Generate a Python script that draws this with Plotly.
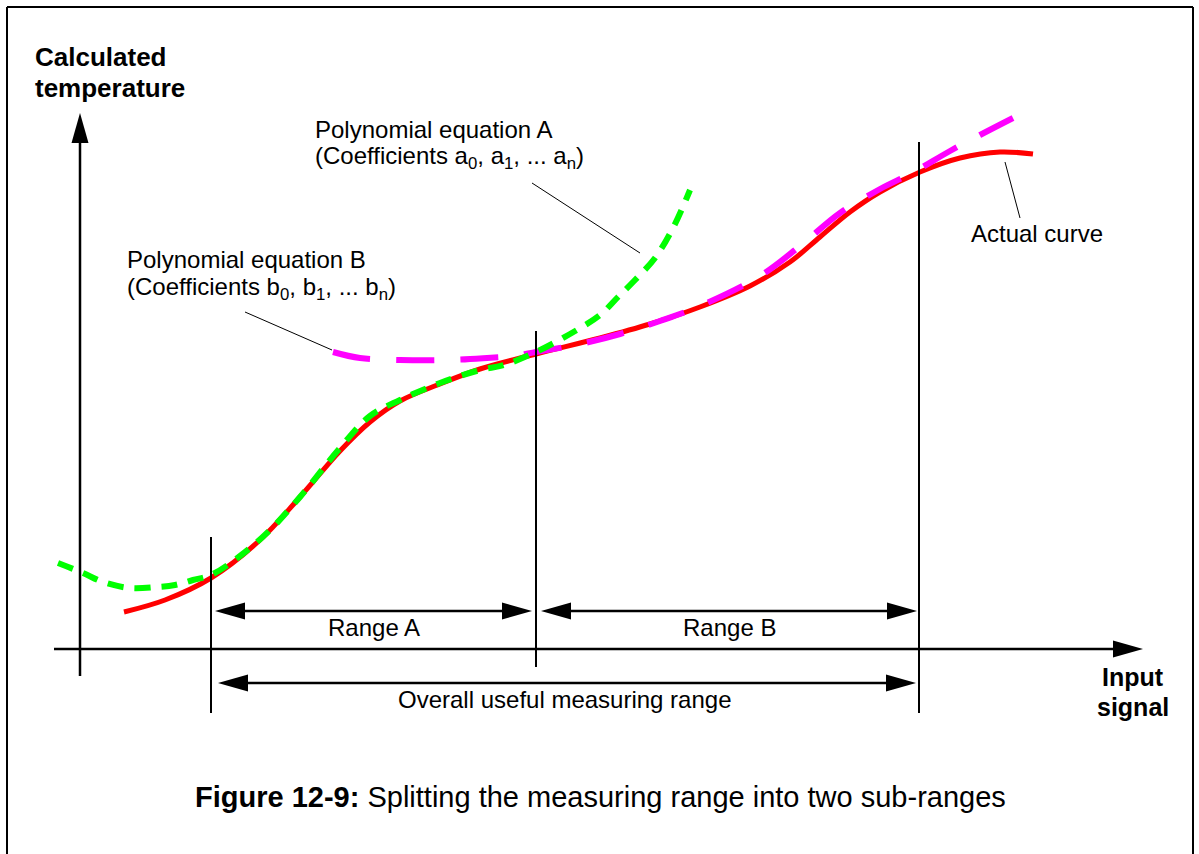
import plotly.graph_objects as go

# ---------------- data (diagram units = pixels of the 1199x854 sheet) -------------
actual_x = [124, 165, 211, 260, 300, 340, 370, 400, 440, 480, 536, 600, 650, 700, 750, 790, 820, 850, 880, 920, 960, 1000, 1033]
actual_y = [612, 600, 578, 540, 497, 451, 422, 401, 384, 369, 354, 338, 324, 307, 286, 262, 237, 212, 192, 172, 158, 152, 154]

polyA_x = [58, 83, 103, 130, 157, 175, 193, 211, 240, 270, 300, 340, 370, 400, 440, 480, 504, 536, 570, 600, 618, 635, 655, 674, 690]
polyA_y = [563, 573, 582, 588, 587, 585, 580, 575, 556, 530, 497, 448, 416, 400, 383, 370, 365, 352, 334, 315, 297, 280, 258, 226, 190]

polyB_x = [333, 360, 400, 450, 487, 513, 536, 580, 620, 660, 700, 760, 800, 840, 880, 912, 950, 980, 1013]
polyB_y = [352, 358, 360, 360, 358, 356, 352, 344, 334, 321, 306, 276, 246, 213, 189, 173, 151, 135, 118]

# axes (start -> end, arrow at end)
x_axis = dict(x0=54, y0=649, x1=1143, y1=649)
y_axis = dict(x0=80, y0=676, x1=80, y1=113)

# vertical boundary lines
bound_x = [211, 536, 919]
bound_top = [537, 331, 142]
bound_bot = [713, 667, 713]

# double arrows  (x_left, x_right, y)
range_arrows = [(215, 532, 611), (541, 917, 611), (218, 916, 683)]

# leader lines ((x0, y0), (x1, y1))
leaders = [((532, 183), (640, 253)), ((245, 312), (332, 350)), ((1005, 162), (1020, 218))]

FONT = "Liberation Sans, Arial, sans-serif"

fig = go.Figure()

fig.add_trace(go.Scatter(x=actual_x, y=actual_y, mode="lines",
                         line=dict(color="#FF0000", width=5, shape="spline", smoothing=1.0),
                         hoverinfo="skip", showlegend=False))
fig.add_trace(go.Scatter(x=polyB_x, y=polyB_y, mode="lines",
                         line=dict(color="#FF00FF", width=6, shape="spline", smoothing=1.0, dash="38px,26px"),
                         hoverinfo="skip", showlegend=False))
fig.add_trace(go.Scatter(x=polyA_x, y=polyA_y, mode="lines",
                         line=dict(color="#00FF00", width=6, shape="spline", smoothing=1.0, dash="16px,11px"),
                         hoverinfo="skip", showlegend=False))

shapes = []
HEAD_L, HEAD_W = 30, 8.5


def head(tx, ty, dx, dy):
    # filled triangle with tip (tx,ty) pointing along unit vector (dx,dy)
    bx, by = tx - dx * HEAD_L, ty - dy * HEAD_L
    px, py = -dy * HEAD_W, dx * HEAD_W
    return dict(type="path", xref="x", yref="y",
                path=f"M{tx},{ty} L{bx+px},{by+py} L{bx-px},{by-py} Z",
                fillcolor="black", line=dict(width=0))


def line(x0, y0, x1, y1, w=2):
    return dict(type="line", xref="x", yref="y", x0=x0, y0=y0, x1=x1, y1=y1,
                line=dict(color="black", width=w))

# frame
shapes.append(line(7, 854, 7, 7, 2))
shapes.append(line(7, 7, 1193, 7, 2))
shapes.append(line(1193, 7, 1193, 854, 2))

# axes
shapes.append(line(x_axis["x0"], x_axis["y0"], x_axis["x1"] - 20, x_axis["y1"], 2.5))
shapes.append(head(x_axis["x1"], x_axis["y1"], 1, 0))
shapes.append(line(y_axis["x0"], y_axis["y0"], y_axis["x1"], y_axis["y1"] + 20, 2.5))
shapes.append(head(y_axis["x1"], y_axis["y1"], 0, -1))

for bx, bt, bb in zip(bound_x, bound_top, bound_bot):
    shapes.append(line(bx, bt, bx, bb, 2))

for xl, xr, yy in range_arrows:
    shapes.append(line(xl + 20, yy, xr - 20, yy, 2.5))
    shapes.append(head(xl, yy, -1, 0))
    shapes.append(head(xr, yy, 1, 0))

for (a, b) in leaders:
    shapes.append(line(a[0], a[1], b[0], b[1], 1))

ann = []


def txt(x, y, s, size=24, xanchor="left", bold=False):
    ann.append(dict(x=x, y=y, xref="x", yref="y", text=(f"<b>{s}</b>" if bold else s),
                    showarrow=False, xanchor=xanchor, yanchor="middle",
                    font=dict(family=FONT, size=size, color="black")))

txt(33, 57, "Calculated", 26, bold=True)
txt(33, 88, "temperature", 26, bold=True)
txt(313, 129, "Polynomial equation A")
txt(313, 157, "(Coefficients a<sub>0</sub>, a<sub>1</sub>, ... a<sub>n</sub>)")
txt(125, 259, "Polynomial equation B")
txt(125, 288, "(Coefficients b<sub>0</sub>, b<sub>1</sub>, ... b<sub>n</sub>)")
txt(969, 233, "Actual curve")
txt(374, 627, "Range A", xanchor="center")
txt(729, 627, "Range B", xanchor="center")
txt(565, 699, "Overall useful measuring range", xanchor="center")
txt(1133, 677, "Input", 25, xanchor="center", bold=True)
txt(1133, 707, "signal", 25, xanchor="center", bold=True)
txt(600, 797, "<b>Figure 12-9:</b> Splitting the measuring range into two sub-ranges", 29, xanchor="center")

fig.update_layout(
    width=1199, height=854,
    margin=dict(l=0, r=0, t=0, b=0),
    paper_bgcolor="white", plot_bgcolor="white",
    xaxis=dict(range=[0, 1199], visible=False, fixedrange=True),
    yaxis=dict(range=[854, 0], visible=False, fixedrange=True),
    shapes=shapes, annotations=ann, showlegend=False,
)

fig.write_html("out.html", include_plotlyjs=True, config={"displayModeBar": False},
               post_script="document.body.style.margin='0px';document.body.style.overflow='hidden';")
